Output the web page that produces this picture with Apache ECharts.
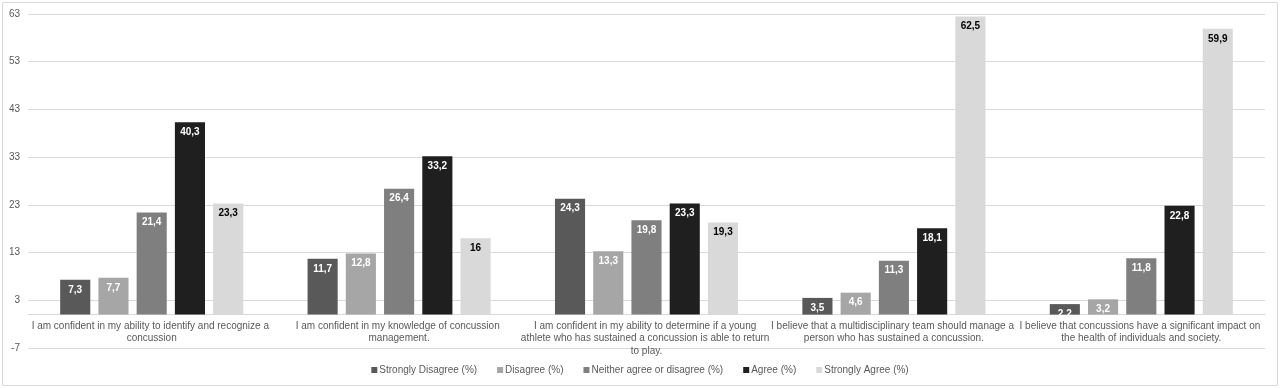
<!DOCTYPE html>
<html>
<head>
<meta charset="utf-8">
<script src="https://cdn.jsdelivr.net/npm/echarts@6/dist/echarts.min.js"></script>
<style>
  html, body { margin: 0; padding: 0; background: #fff; }
  #chart { width: 1280px; height: 388px; }
</style>
</head>
<body>
<div id="chart"></div>
<script>
// statements on the category axis
const statements = [
    'I am confident in my ability to identify and recognize a concussion',
    'I am confident in my knowledge of concussion management.',
    'I am confident in my ability to determine if a young athlete who has sustained a concussion is able to return to play.',
    'I believe that a multidisciplinary team should manage a person who has sustained a concussion.',
    'I believe that concussions have a significant impact on the health of individuals and society.'
];

// percentages per answer
const stronglyDisagree = [7.3, 11.7, 24.3, 3.5, 2.2];
const disagree = [7.7, 12.8, 13.3, 4.6, 3.2];
const neither = [21.4, 26.4, 19.8, 11.3, 11.8];
const agree = [40.3, 33.2, 23.3, 18.1, 22.8];
const stronglyAgree = [23.3, 16, 19.3, 62.5, 59.9];

const seriesNames = ['Strongly Disagree (%)', 'Disagree (%)', 'Neither agree or disagree (%)', 'Agree (%)', 'Strongly Agree (%)'];
const seriesData = [stronglyDisagree, disagree, neither, agree, stronglyAgree];
const colors = ['#595959', '#a6a6a6', '#7f7f7f', '#1f1f1f', '#d9d9d9'];
const labelColors = ['#fff', '#fff', '#fff', '#fff', '#000'];

const font = "'Liberation Sans', Arial, sans-serif";

const yMin = -7, yMax = 63;
const gridTop = 14, gridBottom = 40;
const plotHeight = 388 - gridTop - gridBottom;
// x axis sits on value 0, labels follow it
const zeroOffset = -plotHeight * (0 - yMin) / (yMax - yMin);

const chart = echarts.init(document.getElementById('chart'));
chart.setOption({
    animation: false,
    textStyle: { fontFamily: font },
    color: colors,
    graphic: [{
        type: 'rect',
        shape: { x: 2.5, y: 2.5, width: 1275, height: 383 },
        style: { fill: 'none', stroke: '#d9d9d9', lineWidth: 1 },
        silent: true
    }],
    legend: {
        top: 360,
        left: 'center',
        itemWidth: 6,
        itemHeight: 6,
        itemGap: 20,
        icon: 'rect',
        textStyle: { color: '#595959', fontSize: 10, fontFamily: font, padding: [0, 0, 0, -3] },
        data: seriesNames
    },
    grid: { left: 28, right: 15, top: gridTop, bottom: gridBottom, containLabel: false },
    xAxis: {
        type: 'category',
        data: statements,
        offset: zeroOffset,
        axisLine: { onZero: false, lineStyle: { color: '#d9d9d9', width: 1 } },
        axisTick: { show: false },
        axisLabel: {
            color: '#595959',
            fontSize: 10,
            fontFamily: font,
            margin: 5,
            width: 254,
            overflow: 'break',
            lineHeight: 12.5,
            interval: 0
        }
    },
    yAxis: {
        type: 'value',
        min: yMin,
        max: yMax,
        interval: 10,
        axisLine: { show: false },
        axisTick: { show: false },
        splitLine: { lineStyle: { color: '#d9d9d9', width: 1 } },
        axisLabel: { color: '#595959', fontSize: 10, fontFamily: font, margin: 8 }
    },
    series: seriesNames.map((name, i) => ({
        name: name,
        type: 'bar',
        data: seriesData[i],
        barGap: '27%',
        barCategoryGap: '26%',
        itemStyle: { color: colors[i] },
        label: {
            show: true,
            position: 'insideTop',
            distance: 5,
            color: labelColors[i],
            fontSize: 10,
            fontWeight: 'bold',
            fontFamily: font,
            formatter: p => String(p.value).replace('.', ',')
        }
    }))
});
</script>
</body>
</html>
